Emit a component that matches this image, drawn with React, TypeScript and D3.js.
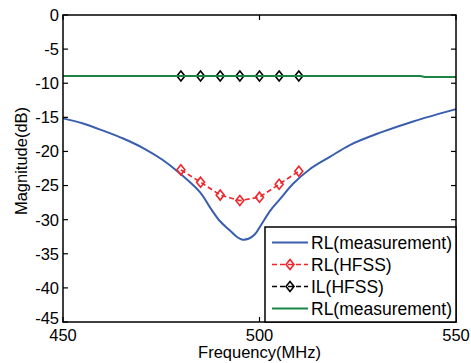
import React, { useRef, useEffect } from 'react';
import * as d3 from 'd3';

// measured return loss (blue)
const rlMeasFreq = [450, 455.1, 460.2, 465.3, 470.4, 475.4, 479.3, 484.9, 487.4, 489.9, 492.5, 494.2, 495.5, 497.2, 498.9, 500.6, 502.7, 505.2, 508.6, 512.8, 517.9, 523, 530.7, 539.1, 550];
const rlMeasVal = [-15.15, -15.9, -16.95, -18.1, -19.5, -21.25, -23.0, -26.0, -28.2, -30.2, -31.6, -32.5, -32.9, -32.8, -32.1, -30.6, -28.7, -27.0, -24.7, -22.6, -20.8, -19.06, -17.25, -15.6, -13.8];

// HFSS simulation
const hfssFreq = [480, 485, 490, 495, 500, 505, 510];
const rlHfss = [-22.7, -24.5, -26.4, -27.2, -26.7, -24.8, -22.9];
const ilHfss = [-8.95, -8.95, -8.95, -8.95, -8.95, -8.95, -8.95];

// measured (green)
const ilMeasFreq = [450, 541, 542, 550];
const ilMeasVal = [-8.95, -8.95, -9.1, -9.1];

const xTicks = [450, 500, 550];
const yTicks = [0, -5, -10, -15, -20, -25, -30, -35, -40, -45];
const legendLabels = ['RL(measurement)', 'RL(HFSS)', 'IL(HFSS)', 'RL(measurement)'];

const BLUE = '#3a5eae';
const RED = '#f0252b';
const GREEN = '#1c8546';

const App = () => {
  const svgRef = useRef<SVGSVGElement>(null);

  useEffect(() => {
    const svg = d3.select(svgRef.current);
    svg.selectAll('*').remove();

    const width = 471;
    const height = 363;
    const margin = { top: 15, right: 15, bottom: 41, left: 63 };
    const x0 = margin.left, x1 = width - margin.right;
    const y0 = margin.top, y1 = height - margin.bottom;
    const font = 'Liberation Sans, Arial, sans-serif';

    const x = d3.scaleLinear().domain([450, 550]).range([x0, x1]);
    const y = d3.scaleLinear().domain([-45, 0]).range([y1, y0]);

    svg.append('rect').attr('width', width).attr('height', height).attr('fill', '#fff');

    const line = d3.line<[number, number]>().x(d => x(d[0])).y(d => y(d[1]));
    const diamond = (g: any, cx: number, cy: number, color: string) => {
      g.append('path')
        .attr('d', `M${cx},${cy - 5}L${cx + 4},${cy}L${cx},${cy + 5}L${cx - 4},${cy}Z`)
        .attr('fill', 'none').attr('stroke', color).attr('stroke-width', 1.6);
    };

    // blue measured RL
    svg.append('path')
      .datum(rlMeasFreq.map((f, i) => [f, rlMeasVal[i]] as [number, number]))
      .attr('d', d3.line<[number, number]>().x(d => x(d[0])).y(d => y(d[1])).curve(d3.curveCatmullRom))
      .attr('fill', 'none').attr('stroke', BLUE).attr('stroke-width', 2);

    // red RL HFSS
    svg.append('path')
      .datum(hfssFreq.map((f, i) => [f, rlHfss[i]] as [number, number]))
      .attr('d', line)
      .attr('fill', 'none').attr('stroke', RED).attr('stroke-width', 1.6).attr('stroke-dasharray', '5,3');
    hfssFreq.forEach((f, i) => diamond(svg, x(f), y(rlHfss[i]), RED));

    // black IL HFSS
    svg.append('path')
      .datum(hfssFreq.map((f, i) => [f, ilHfss[i]] as [number, number]))
      .attr('d', line)
      .attr('fill', 'none').attr('stroke', '#000').attr('stroke-width', 1.6).attr('stroke-dasharray', '5,3');
    hfssFreq.forEach((f, i) => diamond(svg, x(f), y(ilHfss[i]), '#000'));

    // green measured
    svg.append('path')
      .datum(ilMeasFreq.map((f, i) => [f, ilMeasVal[i]] as [number, number]))
      .attr('d', line)
      .attr('fill', 'none').attr('stroke', GREEN).attr('stroke-width', 2);

    // frame and ticks
    svg.append('rect')
      .attr('x', x0).attr('y', y0).attr('width', x1 - x0).attr('height', y1 - y0)
      .attr('fill', 'none').attr('stroke', '#000').attr('stroke-width', 1.5);

    const tl = 5;
    yTicks.forEach(t => {
      svg.append('line').attr('x1', x0).attr('x2', x0 + tl).attr('y1', y(t)).attr('y2', y(t)).attr('stroke', '#000').attr('stroke-width', 1.2);
      svg.append('line').attr('x1', x1).attr('x2', x1 - tl).attr('y1', y(t)).attr('y2', y(t)).attr('stroke', '#000').attr('stroke-width', 1.2);
      svg.append('text')
        .attr('x', x0 - 4).attr('y', y(t) - (t === -45 ? 4 : 0)).attr('dy', '0.36em')
        .attr('text-anchor', 'end').attr('font-family', font).attr('font-size', 16.5)
        .text(t);
    });
    xTicks.forEach(t => {
      svg.append('line').attr('x1', x(t)).attr('x2', x(t)).attr('y1', y1).attr('y2', y1 - tl).attr('stroke', '#000').attr('stroke-width', 1.2);
      svg.append('line').attr('x1', x(t)).attr('x2', x(t)).attr('y1', y0).attr('y2', y0 + tl).attr('stroke', '#000').attr('stroke-width', 1.2);
      svg.append('text')
        .attr('x', x(t)).attr('y', y1 + 19)
        .attr('text-anchor', 'middle').attr('font-family', font).attr('font-size', 16.5)
        .text(t);
    });

    // axis labels
    svg.append('text')
      .attr('x', (x0 + x1) / 2).attr('y', height - 5)
      .attr('text-anchor', 'middle').attr('font-family', font).attr('font-size', 16.5)
      .text('Frequency(MHz)');
    svg.append('text')
      .attr('transform', `translate(27, 161) rotate(-90)`)
      .attr('text-anchor', 'middle').attr('font-family', font).attr('font-size', 16.5)
      .text('Magnitude(dB)');

    // legend
    const lg = svg.append('g');
    const lx0 = 265, ly0 = 227;
    lg.append('rect')
      .attr('x', lx0).attr('y', ly0).attr('width', x1 - lx0).attr('height', y1 - ly0)
      .attr('fill', '#fff').attr('stroke', '#000').attr('stroke-width', 1.5);
    const styles = [
      { color: BLUE, dash: null, marker: false },
      { color: RED, dash: '5,3', marker: true },
      { color: '#000', dash: '5,3', marker: true },
      { color: GREEN, dash: null, marker: false },
    ];
    legendLabels.forEach((lab, i) => {
      const cy = 242.5 + i * 22;
      const l = lg.append('line')
        .attr('x1', 272).attr('x2', 308).attr('y1', cy).attr('y2', cy)
        .attr('stroke', styles[i].color).attr('stroke-width', styles[i].marker ? 1.6 : 2);
      if (styles[i].dash) l.attr('stroke-dasharray', styles[i].dash);
      if (styles[i].marker) diamond(lg, 290, cy, styles[i].color);
      lg.append('text')
        .attr('x', 311).attr('y', cy).attr('dy', '0.36em')
        .attr('font-family', font).attr('font-size', 17.5)
        .text(lab);
    });
  }, []);

  return <svg ref={svgRef} width={471} height={363} style={{ position: 'absolute', left: 0, top: 0 }} />;
};

export default App;
